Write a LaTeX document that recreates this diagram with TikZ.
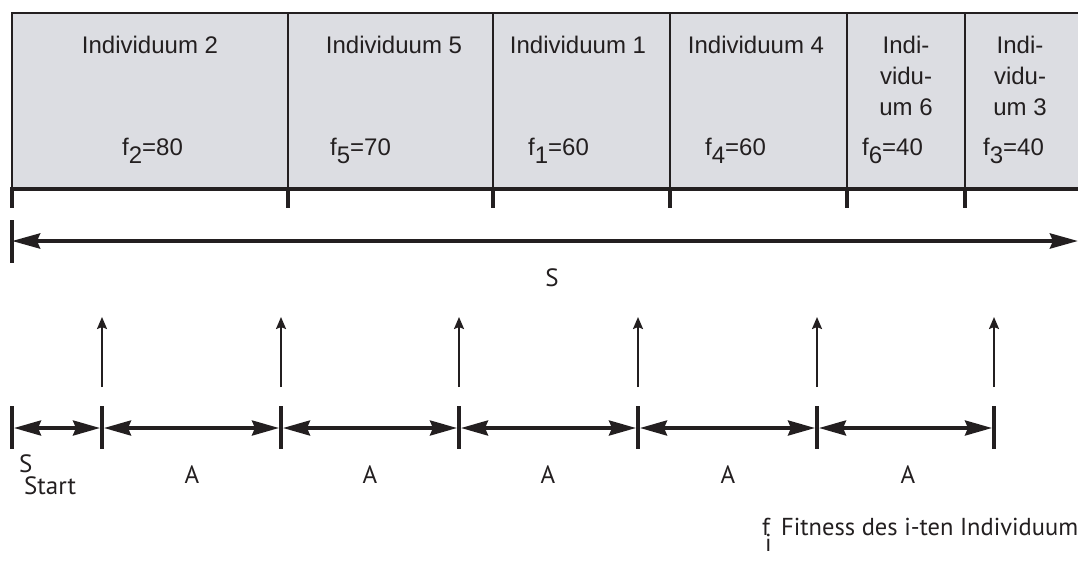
\documentclass[tikz,border=0pt]{standalone}
\usepackage{fontspec}
\setmainfont{Liberation Sans}
\newfontfamily\labfont{PT Sans}
\usetikzlibrary{arrows.meta}
\definecolor{boxfill}{RGB}{220,221,226}
\definecolor{ink}{RGB}{35,31,32}
\tikzset{
  thinline/.style={draw=ink, line width=1.8pt},
  thickline/.style={draw=ink, line width=4pt},
  bigdbl/.style={draw=ink, line width=4pt, {Stealth[length=28pt,width=15pt,inset=3pt]}-{Stealth[length=28pt,width=15pt,inset=3pt]}},
  smalldbl/.style={draw=ink, line width=3.5pt, {Stealth[length=27pt,width=15pt,inset=3pt]}-{Stealth[length=27pt,width=15pt,inset=3pt]}},
  uparrow/.style={draw=ink, line width=2pt, -{Stealth[length=12pt,width=10pt,inset=2pt]}},
  toplab/.style={font=\fontsize{24}{31}\selectfont, text=ink, inner sep=0pt, anchor=base},
  flab/.style={font=\fontsize{24}{30}\selectfont, text=ink, inner sep=0pt, anchor=base west},
  botlab/.style={font=\labfont\fontsize{25}{30}\selectfont, text=ink, inner sep=0pt, anchor=base},
  leglab/.style={font=\labfont\fontsize{24.5}{30}\selectfont, text=ink, inner sep=0pt, anchor=base west},
}
\begin{document}
\begin{tikzpicture}[x=1pt,y=-1pt]
\useasboundingbox (0,0) rectangle (1078,560);
% population box
\fill[boxfill] (12,13) rectangle (1100,189);
\draw[thinline] (1100,13) -- (12,13) -- (12,189);
\foreach \x in {288,493,670,847,965} \draw[thinline] (\x,13) -- (\x,189);
\draw[thickline] (12,189) -- (1100,189);
\foreach \x in {12,288,493,670,847,965} \draw[thickline] (\x,187) -- (\x,208);
% labels in box
\node[toplab] (n2) at (150,53) {Individuum 2};
\node[toplab] (n5) at (394,53) {Individuum 5};
\node[toplab] (n1) at (578,53) {Individuum 1};
\node[toplab] (n4) at (756,53) {Individuum 4};
\node[toplab, align=center, anchor=north] (n6) at (906,36) {Indi-\\vidu-\\um 6};
\node[toplab, align=center, anchor=north] (n3) at (1020,36) {Indi-\\vidu-\\um 3};
\node[flab] (f2) at (122,155) {f\raisebox{-8pt}{2}=80};
\node[flab] (f5) at (330,155) {f\raisebox{-8pt}{5}=70};
\node[flab] (f1) at (528,155) {f\raisebox{-8pt}{1}=60};
\node[flab] (f4) at (705,155) {f\raisebox{-8pt}{4}=60};
\node[flab] (f6) at (862,155) {f\raisebox{-8pt}{6}=40};
\node[flab] (f3) at (983,155) {f\raisebox{-8pt}{3}=40};
% total sum arrow
\coordinate (sL) at (12,241);
\coordinate (sR) at (1078,241);
\draw[thickline] (12,220) -- (12,263);
\draw[bigdbl] (sL) -- (sR);
\node[botlab] (S) at (552,286) {S};
% pointers
\foreach \i/\x in {1/12,2/102,3/281,4/459,5/638,6/817,7/994} {
  \coordinate (b\i) at (\x,428);
  \draw[thickline] (\x,406) -- (\x,449);
}
\foreach \i in {2,...,7} {
  \coordinate (p\i) at ([yshift=41pt]b\i);
  \coordinate (t\i) at ([yshift=111pt]b\i);
  \draw[uparrow] (p\i) -- (t\i);
}
\foreach \i/\j in {1/2,2/3,3/4,4/5,5/6,6/7} {
  \draw[smalldbl] ([xshift=2pt]b\i) -- ([xshift=-2pt]b\j);
}
% labels under
\node[botlab, anchor=base west] (ss) at (19,472) {S};
\node[botlab, anchor=base west] (st) at (24,494) {Start};
\foreach \x [count=\k] in {192,370,548,728,908} \node[botlab] (A\k) at (\x,483) {A};
% legend
\node[leglab] (lf) at (762,535) {f};
\node[leglab] (li) at (765,551) {i};
\node[leglab] (lt) at (781,535) {Fitness des i-ten Individuums};
\end{tikzpicture}
\end{document}
